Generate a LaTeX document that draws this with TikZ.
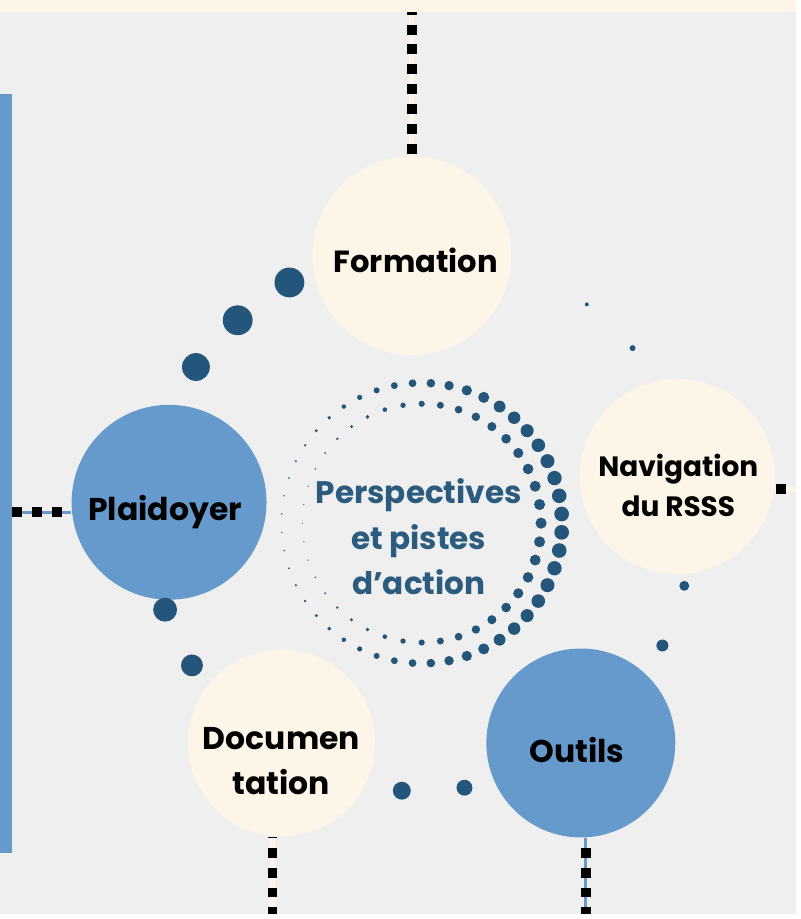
\documentclass[tikz,border=0pt]{standalone}
\usepackage{fontspec}
\setmainfont{Poppins}
\usetikzlibrary{calc}
\definecolor{paper}{HTML}{EFEFEF}
\definecolor{cream}{HTML}{FDF5E8}
\definecolor{steel}{HTML}{6699CC}
\definecolor{darkdot}{HTML}{23567A}
\definecolor{ink}{HTML}{2B5B7E}
\tikzstyle{topic} = [shape=circle, inner sep=0pt]
\tikzstyle{creamtopic} = [topic, fill=cream]
\tikzstyle{bluetopic} = [topic, fill=steel]
\tikzstyle{topictext} = [align=center, font=\bfseries\fontsize{18}{25.5}\selectfont]
\tikzstyle{squares} = [line width=0.2cm, dash pattern=on 0.2cm off 0.2cm]
\tikzstyle{creamlink} = [cream, line width=0.1cm]
\tikzstyle{bluelink} = [steel, line width=0.06cm]

\begin{document}
\begin{tikzpicture}[x=0.02cm, y=-0.02cm]
    \fill[paper] (0,0) rectangle (800,919);
    \fill[cream] (0,0) rectangle (800,12);
    \fill[steel] (0,95) rectangle (12,858);

    \node[creamtopic, minimum size=4cm] (form) at (414,257) {};
    \node[bluetopic, minimum size=3.92cm] (plaid) at (170,505) {};
    \node[creamtopic, minimum size=3.92cm] (nav) at (681,479) {};
    \node[creamtopic, minimum size=3.76cm] (doc) at (283,747) {};
    \node[bluetopic, minimum size=3.8cm] (outl) at (584,747) {};

    \coordinate (topend) at (414,12);
    \coordinate (lend) at (12,515);
    \coordinate (rend) at (800,492);
    \coordinate (dend) at (274,919);
    \coordinate (oend) at (589,919);

    \draw[creamlink] (form.north) -- (topend);
    \draw[squares, dash phase=0.36cm] (form.north) -- (topend);
    \draw[bluelink] (lend) -- (lend -| plaid.west);
    \draw[squares] (lend) -- (lend -| plaid.west);
    \draw[creamlink] (rend) -- (rend -| nav.east);
    \draw[squares, dash phase=0.2cm] (rend) -- (rend -| nav.east);
    \draw[creamlink] (dend |- doc.south) -- (dend);
    \draw[squares, dash phase=0.18cm] (dend |- doc.south) -- (dend);
    \draw[bluelink] (oend |- outl.south) -- (oend);
    \draw[squares, dash phase=0.2cm] (oend |- outl.south) -- (oend);

    \node[topictext, font=\bfseries\fontsize{17.5}{24}\selectfont] (formlabel) at (418,262) {Formation};
    \node[topictext] (plaidlabel) at (166,515) {Plaidoyer};
    \node[topictext, font=\bfseries\fontsize{16}{23}\selectfont] (navlabel) at (682,488) {Navigation\\du RSSS};
    \node[topictext] (doclabel) at (283,765) {Documen\\tation};
    \node[topictext] (outllabel) at (580,754) {Outils};

    \foreach \x/\y/\r in {291/284/15, 239/322/15, 197/369/14, 166/613/12, 193/669/11,
        404/795/9, 467/792/8, 666/649/6, 688/589/5, 636/350/3, 590/306/2}
        \fill[darkdot] (\x,\y) circle (\r);

    \coordinate (ring) at (424,526);
    \foreach \i [evaluate=\i as \a using \i*7.5+3.75,
                 evaluate=\i as \r using 0.8+3.3*(1+cos(\i*7.5+3.75))] in {0,...,47}
        \fill[darkdot] (ring) ++(\a:141) circle (\r);
    \foreach \i [evaluate=\i as \a using \i*9,
                 evaluate=\i as \r using 0.6+2.5*(1+cos(\i*9))] in {0,...,39}
        \fill[darkdot] (ring) ++(\a:120) circle (\r);

    \node[text=ink, align=center, font=\bfseries\fontsize{17.8}{26}\selectfont] (persp) at (421,540) {Perspectives\\et pistes\\d’action};
\end{tikzpicture}
\end{document}
